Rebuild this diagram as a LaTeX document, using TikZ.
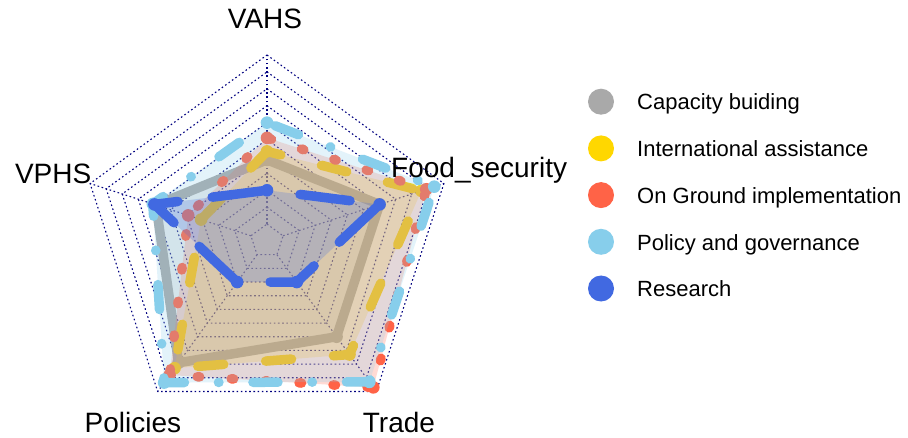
\documentclass[tikz,border=0pt]{standalone}
\usepackage{fontspec}
\setmainfont{Liberation Sans}
\usetikzlibrary{calc}

\definecolor{gridnavy}{RGB}{0,0,128}
\definecolor{capgray}{RGB}{169,169,169}
\definecolor{intgold}{RGB}{255,215,0}
\definecolor{groundred}{RGB}{255,99,71}
\definecolor{policysky}{RGB}{135,206,235}
\definecolor{researchblue}{RGB}{65,105,225}

% distance between two neighbouring grid rings
\newcommand\ringstep{16.909}
% five vertices of one series: VAHS, Food_security, Trade, Policies, VPHS
\newcommand\radarpts[6]{%
  \coordinate (#1-1) at (90:{#2*\ringstep});
  \coordinate (#1-2) at (18:{#3*\ringstep});
  \coordinate (#1-3) at (-54:{#4*\ringstep});
  \coordinate (#1-4) at (-126:{#5*\ringstep});
  \coordinate (#1-5) at (162:{#6*\ringstep});}

\begin{document}
\begin{tikzpicture}[x=1pt,y=1pt,
  gridline/.style={gridnavy, line width=1.1pt, dash pattern=on 1.6pt off 2.6pt},
  series/.style={line width=9.5pt, line join=round, line cap=round, fill opacity=0.23},
  axislabel/.style={inner sep=0pt, font=\fontsize{28}{32}\selectfont},
  legtext/.style={inner sep=0pt, anchor=base west, font=\fontsize{22}{26}\selectfont},
  legdot/.style={circle, inner sep=0pt, minimum size=26pt},
]
\useasboundingbox (0,0) rectangle (908,437);
\fill[white] (0,0) rectangle (908,437);

\begin{scope}[shift={(267,196)}]
  % grid rings and spokes
  \foreach \k in {1,...,11}
    \draw[gridline] (90:{\k*\ringstep}) -- (18:{\k*\ringstep}) -- (-54:{\k*\ringstep})
      -- (-126:{\k*\ringstep}) -- (162:{\k*\ringstep}) -- cycle;
  \foreach \a in {90,18,-54,-126,162}
    \draw[gridline] (\a:\ringstep) -- (\a:{11*\ringstep});

  \radarpts{cap}{4.8}{7}{7}{8.9}{6.9}
  \radarpts{int}{5.3}{9.6}{8.3}{9.3}{4.1}
  \radarpts{gnd}{6.1}{9.9}{10.7}{9.8}{4.9}
  \radarpts{pol}{7}{10.4}{10.3}{10.35}{7.1}
  \radarpts{res}{3}{7}{3}{3}{7}
\end{scope}

% Capacity buiding
\filldraw[series, draw=capgray, fill=capgray]
  (cap-1) -- (cap-2) -- (cap-3) -- (cap-4) -- (cap-5) -- cycle;
\foreach \i in {1,...,5} \fill[capgray] (cap-\i) circle (6.3pt);

% International assistance
\filldraw[series, draw=intgold, fill=intgold, dash pattern=on 26pt off 42pt, dash phase=11.75pt]
  (int-1) -- (int-2) -- (int-3) -- (int-4) -- (int-5) -- cycle;
\foreach \i in {1,...,5} \fill[intgold] (int-\i) circle (6.3pt);

% On Ground implementation
\filldraw[series, draw=groundred, fill=groundred, dash pattern=on 2.5pt off 31.5pt, dash phase=31.75pt]
  (gnd-1) -- (gnd-2) -- (gnd-3) -- (gnd-4) -- (gnd-5) -- cycle;
\foreach \i in {1,...,5} \fill[groundred] (gnd-\i) circle (6.3pt);

% Policy and governance
\filldraw[series, draw=policysky, fill=policysky,
  dash pattern=on 0.5pt off 34pt on 25pt off 34pt, dash phase=25.75pt]
  (pol-1) -- (pol-2) -- (pol-3) -- (pol-4) -- (pol-5) -- cycle;
\foreach \i in {1,...,5} \fill[policysky] (pol-\i) circle (6.3pt);

% Research
\filldraw[series, draw=researchblue, fill=researchblue, dash pattern=on 50.5pt off 34.5pt, dash phase=80.25pt]
  (res-1) -- (res-5) -- (res-4) -- (res-3) -- (res-2) -- cycle;
\foreach \i in {1,...,5} \fill[researchblue] (res-\i) circle (6.3pt);

% axis labels
\node[axislabel, anchor=base] (lvahs) at (265,408.7) {VAHS};
\node[axislabel, anchor=base east] (lvphs) at (91.5,253.7) {VPHS};
\node[axislabel, anchor=base west] (lfood) at (391,259) {Food\_security};
\node[axislabel, anchor=base west] (lpol) at (84.5,4.7) {Policies};
\node[axislabel, anchor=base west] (ltrade) at (362.7,4.7) {Trade};

% legend
\node[legdot, fill=capgray] (dot1) at (601,335.3) {};
\node[legtext] (leg1) at (637,327.0) {Capacity buiding};
\node[legdot, fill=intgold] (dot2) at (601,288.6) {};
\node[legtext] (leg2) at (637,280.3) {International assistance};
\node[legdot, fill=groundred] (dot3) at (601,241.9) {};
\node[legtext] (leg3) at (637,233.6) {On Ground implementation};
\node[legdot, fill=policysky] (dot4) at (601,195.2) {};
\node[legtext] (leg4) at (637,186.9) {Policy and governance};
\node[legdot, fill=researchblue] (dot5) at (601,148.5) {};
\node[legtext] (leg5) at (637,140.2) {Research};
\end{tikzpicture}
\end{document}
